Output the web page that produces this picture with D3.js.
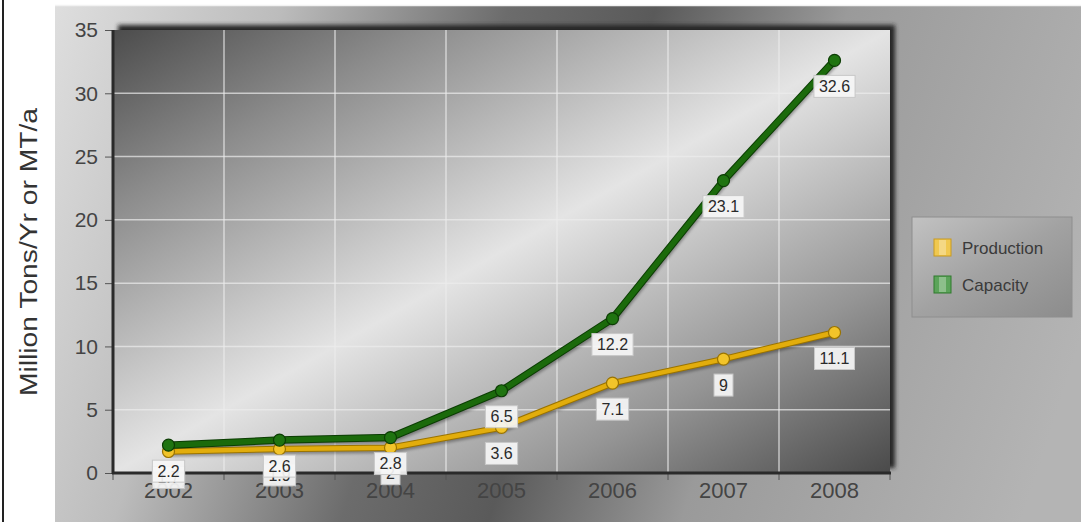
<!DOCTYPE html>
<html>
<head>
<meta charset="utf-8">
<script src="https://cdn.jsdelivr.net/npm/d3@7"></script>
<style>
  html, body { margin: 0; padding: 0; background: #ffffff; }
  svg { display: block; font-family: "Liberation Sans", Arial, sans-serif; }
</style>
</head>
<body>
<svg id="chart" width="1081" height="522"></svg>
<script>
// ---- data ----
const years = ["2002", "2003", "2004", "2005", "2006", "2007", "2008"];
const production = [1.7, 1.9, 2, 3.6, 7.1, 9, 11.1];
const capacity = [2.2, 2.6, 2.8, 6.5, 12.2, 23.1, 32.6];
const yTicks = [0, 5, 10, 15, 20, 25, 30, 35];
const seriesNames = ["Production", "Capacity"];
const yTitle = "Million Tons/Yr or MT/a";

const series = [
  { name: seriesNames[0], values: production, line: "#e2ad0c", dark: "#9a7300", fill: "#f2c42a", w: 4.5 },
  { name: seriesNames[1], values: capacity, line: "#1b6a0b", dark: "#0c3d04", fill: "#1f7410", w: 5.5 }
];

const svg = d3.select("#chart");
const W = 1081, H = 522;
const plot = { left: 113, top: 30, right: 890, bottom: 473 };

const defs = svg.append("defs");

// panel gradient
const pg = defs.append("linearGradient").attr("id", "panelGrad")
  .attr("gradientUnits", "userSpaceOnUse")
  .attr("x1", 55).attr("y1", 5).attr("x2", 1081).attr("y2", 340);
[[0, "#dedede"], [0.2, "#bcbcbc"], [0.4, "#6c6c6c"], [0.53, "#5a5a5a"], [0.7, "#9a9a9a"], [1, "#b4b4b4"]]
  .forEach(([o, c]) => pg.append("stop").attr("offset", o).attr("stop-color", c));

// plot gradient
const plg = defs.append("linearGradient").attr("id", "plotGrad")
  .attr("x1", 0).attr("y1", 0).attr("x2", 1).attr("y2", 1);
[[0, "#4c4c4c"], [0.2, "#8c8c8c"], [0.5, "#e4e4e4"], [0.78, "#959595"], [1, "#4a4a4a"]]
  .forEach(([o, c]) => plg.append("stop").attr("offset", o).attr("stop-color", c));

// legend gradient
const lg = defs.append("linearGradient").attr("id", "legGrad")
  .attr("x1", 0).attr("y1", 0).attr("x2", 1).attr("y2", 1);
[[0, "#c2c2c2"], [0.5, "#a2a2a2"], [1, "#8c8c8c"]]
  .forEach(([o, c]) => lg.append("stop").attr("offset", o).attr("stop-color", c));

defs.append("filter").attr("id", "blur").attr("x", "-5%").attr("y", "-5%").attr("width", "110%").attr("height", "110%")
  .append("feGaussianBlur").attr("stdDeviation", 2);
defs.append("filter").attr("id", "lineShadow").attr("x", "-5%").attr("y", "-20%").attr("width", "110%").attr("height", "140%")
  .append("feGaussianBlur").attr("stdDeviation", 1.5);

// outer decoration
svg.append("line").attr("x1", 3).attr("x2", 3).attr("y1", 0).attr("y2", H)
  .attr("stroke", "#222").attr("stroke-width", 2);
svg.append("rect").attr("x", 55).attr("y", 5).attr("width", W - 55).attr("height", H - 5)
  .attr("fill", "url(#panelGrad)");
svg.append("line").attr("x1", 55).attr("x2", W).attr("y1", 5.5).attr("y2", 5.5)
  .attr("stroke", "#f2f2f2").attr("stroke-width", 1.5);

// scales
const x = d3.scaleBand().domain(years).range([plot.left, plot.right]).padding(0);
const y = d3.scaleLinear().domain([0, 35]).range([plot.bottom, plot.top]);

// plot shadow (top / right)
svg.append("rect").attr("x", plot.left + 5).attr("y", plot.top - 5)
  .attr("width", plot.right - plot.left).attr("height", plot.bottom - plot.top)
  .attr("fill", "#262626").attr("filter", "url(#blur)");
svg.append("rect").attr("x", plot.left).attr("y", plot.top)
  .attr("width", plot.right - plot.left).attr("height", plot.bottom - plot.top)
  .attr("fill", "url(#plotGrad)");

// grid
const grid = svg.append("g").attr("class", "grid");
grid.selectAll("line.h").data(yTicks.filter(t => t > 0 && t < 35)).join("line")
  .attr("class", "h")
  .attr("x1", plot.left).attr("x2", plot.right)
  .attr("y1", d => y(d)).attr("y2", d => y(d))
  .attr("stroke", "#ededed").attr("stroke-opacity", 0.7).attr("stroke-width", 1.5);
grid.selectAll("line.v").data(years.slice(1)).join("line")
  .attr("class", "v")
  .attr("x1", d => x(d)).attr("x2", d => x(d))
  .attr("y1", plot.top).attr("y2", plot.bottom)
  .attr("stroke", "#ededed").attr("stroke-opacity", 0.7).attr("stroke-width", 1.5);

// axes
const yAxis = d3.axisLeft(y).tickValues(yTicks).tickSize(8).tickPadding(7);
const gy = svg.append("g").attr("transform", `translate(${plot.left},0)`).call(yAxis);
gy.select(".domain").remove();
gy.selectAll(".tick line").attr("stroke", "#555");
gy.selectAll(".tick text").attr("fill", "#444").attr("font-size", 21)
  .attr("font-family", "'Liberation Sans', Arial, sans-serif");

const xAxis = d3.axisBottom(x).tickSize(0).tickPadding(9);
const gx = svg.append("g").attr("transform", `translate(0,${plot.bottom})`).call(xAxis);
gx.select(".domain").remove();
gx.selectAll(".tick text").attr("fill", "#444").attr("font-size", 22)
  .attr("font-family", "'Liberation Sans', Arial, sans-serif");
// x ticks at band boundaries
const bounds = years.map(d => x(d)).concat([plot.right]);
svg.append("g").selectAll("line").data(bounds).join("line")
  .attr("x1", d => d).attr("x2", d => d)
  .attr("y1", plot.bottom).attr("y2", plot.bottom + 7)
  .attr("stroke", "#555").attr("stroke-width", 1);

// axis lines (left and bottom)
svg.append("line").attr("x1", plot.left).attr("x2", plot.left).attr("y1", plot.top).attr("y2", plot.bottom + 1)
  .attr("stroke", "#2a2a2a").attr("stroke-width", 3);
svg.append("line").attr("x1", plot.left - 1).attr("x2", plot.right + 1).attr("y1", plot.bottom).attr("y2", plot.bottom)
  .attr("stroke", "#2a2a2a").attr("stroke-width", 3);

// y title
svg.append("text")
  .attr("transform", `translate(37,252) rotate(-90)`)
  .attr("text-anchor", "middle")
  .attr("font-size", 23).attr("fill", "#333")
  .attr("textLength", 288).attr("lengthAdjust", "spacingAndGlyphs")
  .text(yTitle);

// lines
const lineGen = (vals) => d3.line().x((d, i) => x(years[i]) + x.bandwidth() / 2).y(d => y(d))(vals);
const linesG = svg.append("g");
series.forEach(s => {
  linesG.append("path").attr("d", lineGen(s.values)).attr("fill", "none")
    .attr("stroke", "#000").attr("stroke-opacity", 0.35).attr("stroke-width", s.w)
    .attr("transform", "translate(1,3)").attr("filter", "url(#lineShadow)");
});
series.forEach(s => {
  linesG.append("path").attr("d", lineGen(s.values)).attr("fill", "none")
    .attr("stroke", s.dark).attr("stroke-width", s.w + 2).attr("stroke-linejoin", "round");
  linesG.append("path").attr("d", lineGen(s.values)).attr("fill", "none")
    .attr("stroke", s.line).attr("stroke-width", s.w).attr("stroke-linejoin", "round");
  linesG.append("g").selectAll("circle").data(s.values).join("circle")
    .attr("cx", (d, i) => x(years[i]) + x.bandwidth() / 2)
    .attr("cy", d => y(d))
    .attr("r", 6)
    .attr("fill", s.fill).attr("stroke", s.dark).attr("stroke-width", 1.2);
});

// data labels
const labelsG = svg.append("g");
series.forEach(s => {
  s.values.forEach((v, i) => {
    const cx = x(years[i]) + x.bandwidth() / 2;
    const cy = y(v) + 26;
    const g = labelsG.append("g").attr("transform", `translate(${cx},${cy})`);
    const t = g.append("text").attr("text-anchor", "middle").attr("dy", "0.36em")
      .attr("font-size", 16).attr("fill", "#2a2a2a").text(String(v));
    const w = t.node().getComputedTextLength() + 10;
    g.insert("rect", "text").attr("x", -w / 2).attr("y", -11).attr("width", w).attr("height", 22)
      .attr("fill", "#f6f6f6").attr("fill-opacity", 0.92).attr("stroke", "#c8c8c8").attr("stroke-width", 1);
  });
});

// legend
const legend = svg.append("g").attr("transform", "translate(912,217)");
legend.append("rect").attr("width", 160).attr("height", 100)
  .attr("fill", "url(#legGrad)").attr("stroke", "#8e8e8e").attr("stroke-width", 1);
const swatchColors = [["#f0c850", "#c89a20"], ["#5ca45a", "#2f7a2c"]];
seriesNames.forEach((n, i) => {
  const gy0 = 22 + i * 37;
  legend.append("rect").attr("x", 22).attr("y", gy0).attr("width", 17).attr("height", 17)
    .attr("fill", swatchColors[i][0]).attr("stroke", swatchColors[i][1]).attr("stroke-width", 1);
  legend.append("rect").attr("x", 27).attr("y", gy0 + 1).attr("width", 7).attr("height", 15)
    .attr("fill", "#ffffff").attr("fill-opacity", 0.3);
  legend.append("text").attr("x", 50).attr("y", gy0 + 9).attr("dy", "0.35em")
    .attr("font-size", 17).attr("fill", "#3a3a3a").text(n);
});
</script>
</body>
</html>
